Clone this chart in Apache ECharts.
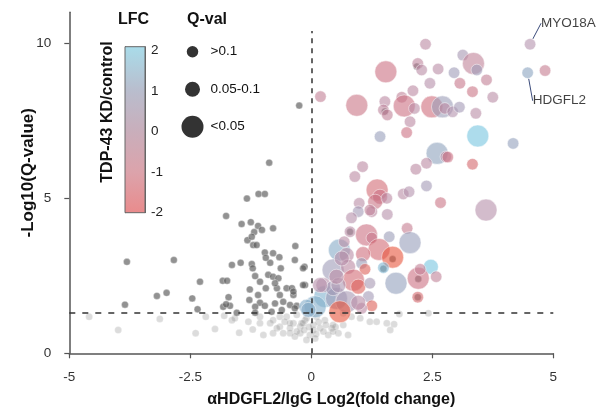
<!DOCTYPE html>
<html>
<head>
<meta charset="utf-8">
<script src="https://cdn.jsdelivr.net/npm/echarts@6/dist/echarts.min.js"></script>
<style>
  html, body { margin: 0; padding: 0; background: #fff; }
  #chart { width: 597px; height: 414px; }
</style>
</head>
<body>
<div id="chart"></div>
<script>
// axis ticks
const xTicks = [-5, -2.5, 0, 2.5, 5]
const yTicks = [0, 5, 10]
const lfcTicks = [-2, -1, 0, 1, 2]
const qClasses = ['>0.1', '0.05-0.1', '<0.05']
const qCut = 1.3

// proteins hit in both screens: [log2FC, -log10 q, LFC TDP-43 KD/control, q class index]
const hits = [
  [4.52, 9.97, 0, 0], [4.47, 9.05, 1, 0], [4.83, 9.12, -0.7, 0], [0.19, 8.28, -0.6, 0],
  [2.36, 9.97, -0.3, 0], [1.54, 9.08, -1, 2], [2.20, 9.35, -0.4, 0], [2.28, 9.14, -0.2, 0],
  [2.62, 9.17, -0.2, 0], [3.13, 9.62, 0.3, 0], [3.35, 9.35, -0.5, 2], [3.42, 9.14, 0.5, 0],
  [2.95, 9.05, 0.5, 0], [2.45, 8.71, -0.1, 0], [3.07, 8.71, -0.8, 0], [3.62, 8.82, -0.6, 0],
  [3.33, 8.44, -0.9, 0], [3.75, 8.26, -0.2, 0], [2.10, 8.47, -0.3, 0], [0.94, 8.00, -0.9, 2],
  [1.52, 8.12, -0.3, 0], [1.49, 7.85, -0.4, 0], [1.57, 7.69, -0.5, 0], [1.87, 8.26, -0.5, 0],
  [1.92, 7.98, -1, 2], [2.13, 7.90, -0.2, 0], [2.49, 7.95, -1.1, 2], [2.71, 7.95, 0.6, 2],
  [2.76, 7.90, -0.3, 0], [2.92, 7.79, 0, 0], [3.06, 7.94, 0.4, 0], [3.40, 7.74, -0.2, 0],
  [2.04, 7.47, -0.3, 0], [1.97, 7.12, -1, 0], [1.42, 6.99, 0.7, 0], [3.44, 7.01, 1.9, 2],
  [4.17, 6.77, 0.8, 0], [2.60, 6.45, 0.9, 2], [2.78, 6.34, -0.2, 0], [2.82, 6.33, -1, 0],
  [2.38, 6.13, -0.3, 0], [3.33, 6.10, -1.3, 0], [2.16, 5.94, -0.3, 0], [1.06, 6.02, -0.3, 0],
  [0.90, 5.70, -0.3, 0], [1.36, 5.27, -1.2, 2], [1.42, 5.05, -1, 1], [1.32, 4.89, -0.9, 1],
  [1.56, 5.00, -0.3, 0], [0.99, 4.84, -0.2, 0], [1.25, 4.57, -0.3, 0], [0.97, 4.57, 0.4, 0],
  [0.83, 4.37, -0.1, 0], [1.57, 4.48, -0.1, 0], [1.90, 5.14, -0.2, 0], [2.02, 5.21, 0, 0],
  [2.38, 5.40, 0.4, 0], [2.67, 4.86, -0.9, 0], [3.61, 4.62, -0.1, 2], [0.80, 3.92, -0.2, 0],
  [1.14, 3.82, -1, 2], [1.25, 3.72, -0.8, 0], [1.98, 4.03, -0.7, 0], [1.61, 3.76, 0.6, 0],
  [2.04, 3.57, 0.7, 2], [0.58, 3.33, 1.2, 2], [1.40, 3.35, -1.2, 2], [1.68, 3.10, -2, 2],
  [1.07, 3.20, -1.1, 1], [1.04, 2.90, 0.6, 0], [1.11, 2.71, -1.6, 0], [1.49, 2.76, 1.5, 0],
  [2.47, 2.79, 1.9, 1], [0.73, 3.17, -0.2, 1], [0.45, 2.69, 0.5, 2], [0.76, 2.79, -0.3, 1],
  [0.87, 2.36, -1.2, 2], [0.97, 2.15, -1.6, 1], [1.21, 2.26, 0.3, 0], [1.75, 2.26, 0.8, 2],
  [2.21, 2.42, -1, 2], [2.25, 2.71, -0.6, 0], [2.58, 2.47, -0.5, 0], [2.20, 1.81, -1.3, 0],
  [0.28, 1.83, 1.4, 2], [0.52, 1.77, 0.5, 2], [0.73, 1.66, 0.3, 2], [0.08, 1.50, 1.3, 2],
  [0.59, 1.34, -2, 2], [1.18, 1.83, 0.4, 0], [1.25, 1.53, -1.6, 0], [1.04, 1.45, -0.3, 0],
  [-0.10, 1.50, 1.3, 1], [0.25, 2.20, -0.1, 1], [0.45, 2.10, 0.4, 1], [1.21, 4.62, -0.5, 0],
  [0.68, 3.60, -0.2, 0], [0.63, 3.06, -0.1, 1], [0.56, 2.20, 0.2, 1], [0.97, 1.63, -0.2, 1],
  [0.52, 2.47, -0.2, 1], [0.18, 2.20, -0.1, 1], [-0.06, 1.40, 1.2, 1]
]

// labelled genes, index into hits
const geneLabels = [['MYO18A', 0], ['HDGFL2', 1]]

// other proteins above the q cut-off
const graySig = [
  [-3.81, 2.95], [-2.84, 3.01], [-3.85, 1.57], [-3.19, 1.85], [-2.99, 1.95], [-2.30, 2.31],
  [-2.46, 1.77], [-2.35, 1.42], [-1.76, 4.43], [-1.33, 4.99], [-1.09, 5.14], [-0.96, 5.14],
  [-1.44, 4.17], [-1.25, 4.23], [-1.10, 4.11], [-1.18, 3.91], [-1.02, 3.98], [-0.79, 4.03],
  [-1.20, 3.49], [-1.13, 3.49], [-0.33, 3.46], [-0.96, 3.25], [-0.79, 3.23], [-0.66, 3.10],
  [-0.85, 2.92], [-0.63, 2.74], [-0.34, 3.01], [-1.64, 2.85], [-1.46, 2.92], [-1.23, 2.88],
  [-1.21, 2.74], [-1.83, 2.34], [-1.74, 2.34], [-1.16, 2.49], [-1.06, 2.31], [-0.89, 2.53],
  [-0.79, 2.47], [-0.68, 2.42], [-1.27, 2.06], [-0.94, 2.10], [-0.71, 2.10], [-0.51, 2.10],
  [-0.40, 2.10], [-0.13, 2.20], [-0.65, 1.88], [-0.37, 1.88], [-1.28, 1.72], [-1.71, 1.81],
  [-1.06, 1.63], [-1.16, 1.50], [-0.96, 1.53], [-0.75, 1.61], [-0.58, 1.66], [-0.44, 1.56],
  [-0.30, 1.53], [-1.82, 1.50], [-1.68, 1.53], [-1.76, 1.58], [-1.54, 1.31], [-0.82, 1.34],
  [-0.61, 1.40], [-1.16, 1.31], [-0.34, 1.45], [-0.14, 2.79], [-0.17, 2.74], [-0.17, 2.20],
  [-0.25, 7.99], [-0.87, 6.15], [-1.32, 3.65], [-1.23, 3.76], [-0.94, 3.08], [-0.75, 2.26],
  [-0.37, 1.99], [-1.10, 1.88], [0.80, 3.92], [1.68, 3.04], [1.49, 2.73], [2.21, 2.40],
  [2.20, 1.81], [1.52, 7.80], [2.18, 9.25]
]

// below the q cut-off
const grayNs = [
  [-4.59, 1.18], [-3.99, 0.75], [-3.13, 1.11], [-2.39, 0.65], [-2.18, 1.18], [-1.99, 0.78],
  [-1.80, 1.21], [-1.49, 0.66], [-1.64, 1.07], [-1.58, 1.13], [-1.21, 0.77], [-0.99, 0.59],
  [-0.79, 0.65], [-1.30, 1.02], [-1.06, 0.97], [-0.85, 0.97], [-0.65, 0.86], [-0.44, 0.65],
  [-0.37, 0.97], [-0.23, 0.86], [-0.13, 1.07], [-0.23, 0.65], [-1.06, 1.18], [-0.65, 1.18],
  [1.21, 1.02], [1.35, 1.02], [1.56, 0.97], [1.63, 0.75], [0.76, 0.59], [0.83, 1.18],
  [1.01, 1.13], [0.66, 1.29], [0.42, 0.81], [1.82, 1.27], [2.42, 1.29], [1.71, 0.94],
  [-0.79, 1.07], [-0.51, 1.18], [-0.30, 1.24], [-0.10, 1.13], [0.11, 1.18], [0.28, 1.07],
  [-0.58, 0.65], [-0.34, 0.54], [-0.03, 0.59], [0.18, 0.81], [0.35, 0.59], [0.56, 0.65],
  [-0.71, 0.81], [0.04, 0.75], [-0.20, 0.97], [-0.44, 0.81], [0.04, 0.91], [0.25, 0.70],
  [0.45, 0.70], [-0.15, 0.75], [0.10, 0.62], [-0.30, 0.70], [0.30, 0.91], [0.50, 0.85],
  [-0.10, 0.43], [0.08, 0.48], [-0.55, 1.02], [0.15, 1.00], [-0.05, 0.85], [-0.44, 0.97],
  [0.45, 0.91], [0.66, 0.91], [-0.17, 0.97]
]

const qSize = [11.5, 15, 22]
const font = 'Liberation Sans, Arial, sans-serif'

let chart = echarts.init(document.getElementById('chart'))

let barGradient = new echarts.graphic.LinearGradient(0, 0, 0, 1, [
  { offset: 0, color: '#a9dcea' },
  { offset: 0.268, color: '#b9bdcd' },
  { offset: 0.512, color: '#c9aebb' },
  { offset: 0.756, color: '#dca3ab' },
  { offset: 1, color: '#e98b8c' }
])

let option = {
  animation: false,
  textStyle: { fontFamily: font },
  title: [{
    text: 'LFC', left: 118, top: 12, padding: 0,
    textStyle: { fontSize: 16, fontWeight: 'bold', color: '#111', fontFamily: font }
  }, {
    text: 'Q-val', left: 187, top: 12, padding: 0,
    textStyle: { fontSize: 16, fontWeight: 'bold', color: '#111', fontFamily: font }
  }],
  graphic: [{
    type: 'text',
    x: 108, y: 112,
    rotation: Math.PI / 2,
    style: {
      text: 'TDP-43 KD/control',
      font: 'bold 16px ' + font,
      fill: '#111',
      textAlign: 'center',
      textVerticalAlign: 'middle'
    }
  }],
  grid: [
    { left: 69.3, right: 43.7, top: 12.3, bottom: 60.7 },
    { left: 125, top: 46.7, width: 20, height: 166 },
    { left: 182.5, top: 33, width: 20, height: 112.5 }
  ],
  xAxis: [{
    type: 'value', min: -5, max: 5, interval: 2.5,
    name: 'αHDGFL2/IgG Log2(fold change)',
    nameLocation: 'middle', nameGap: 38, nameMoveOverlap: false,
    nameTextStyle: { fontSize: 16, fontWeight: 'bold', color: '#111', padding: [0, 0, 0, 40] },
    axisLine: { onZero: false, lineStyle: { color: '#555', width: 1.5 } },
    axisTick: { length: 5, lineStyle: { color: '#555', width: 1.2 } },
    axisLabel: { fontSize: 13.5, color: '#333', margin: 17 },
    splitLine: { show: false }
  }, {
    type: 'value', gridIndex: 1, min: 0, max: 1, show: false
  }, {
    type: 'value', gridIndex: 2, min: 0, max: 1, show: false
  }],
  yAxis: [{
    type: 'value', min: 0, max: 11,
    name: '-Log10(Q-value)',
    nameLocation: 'middle', nameGap: 32, nameMoveOverlap: false,
    nameTextStyle: { fontSize: 17, fontWeight: 'bold', color: '#111', padding: [0, 0, 0, 20] },
    axisLine: { show: true, onZero: false, lineStyle: { color: '#555', width: 1.5 } },
    axisTick: { show: true, length: 5, customValues: yTicks, lineStyle: { color: '#555', width: 1.2 } },
    axisLabel: { fontSize: 13.5, color: '#333', margin: 18, customValues: yTicks },
    splitLine: { show: false }
  }, {
    type: 'value', gridIndex: 1, min: -2, max: 2.1, position: 'right',
    axisLine: { show: true, onZero: false, lineStyle: { color: '#666', width: 1 } },
    axisTick: { show: true, inside: true, length: 3, customValues: [-1, 0, 1], lineStyle: { color: '#555' } },
    axisLabel: { fontSize: 13.5, color: '#222', margin: 6, customValues: lfcTicks },
    splitLine: { show: false }
  }, {
    type: 'value', gridIndex: 1, min: -2, max: 2.1, position: 'left',
    axisLine: { show: true, onZero: false, lineStyle: { color: '#666', width: 1 } },
    axisTick: { show: true, inside: true, length: 3, customValues: [-1, 0, 1], lineStyle: { color: '#555' } },
    axisLabel: { show: false },
    splitLine: { show: false }
  }, {
    type: 'category', gridIndex: 2, data: qClasses, inverse: true, position: 'right',
    axisLine: { show: false }, axisTick: { show: false },
    axisLabel: { fontSize: 13.5, color: '#111', margin: 8 }
  }],
  visualMap: {
    type: 'continuous', show: false, seriesIndex: 2, dimension: 2,
    min: -2, max: 2,
    inRange: { color: ['#e8553c', '#cc7082', '#b493ae', '#8aa3bf', '#74c8e4'] }
  },
  series: [{
    type: 'scatter',
    data: grayNs,
    symbolSize: 7,
    itemStyle: { color: 'rgba(130,130,130,0.35)', borderColor: 'rgba(255,255,255,0.5)', borderWidth: 0.5 },
    markLine: {
      silent: true, symbol: 'none', label: { show: false },
      data: [
        [{ coord: [0, 0], lineStyle: { type: [5, 5] } }, { coord: [0, 10.4] }],
        [{ coord: [-5, qCut], lineStyle: { type: [6, 7] } }, { coord: [5, qCut] }]
      ],
      lineStyle: { color: '#333', width: 1.5 }
    }
  }, {
    type: 'scatter',
    data: graySig,
    symbolSize: 7,
    itemStyle: { color: 'rgba(95,95,95,0.85)', borderColor: 'rgba(255,255,255,0.7)', borderWidth: 0.6 }
  }, {
    type: 'scatter',
    data: hits,
    symbolSize: d => qSize[d[3]],
    itemStyle: { opacity: 0.6, borderColor: '#fff', borderWidth: 0.8 }
  }, {
    type: 'scatter',
    silent: true,
    data: geneLabels.map(g => ({ name: g[0], value: hits[g[1]].slice(0, 2) })),
    symbolSize: 12,
    itemStyle: { color: 'rgba(0,0,0,0)' },
    label: { show: true, formatter: '{b}', position: 'right', distance: 5, fontSize: 13.5, color: '#111' },
    labelLine: { show: true, lineStyle: { color: '#3a4a7a', width: 1 } },
    labelLayout: p => p.dataIndex === 0 ? { dx: 0, dy: -21 } : { dx: -6, dy: 28 }
  }, {
    type: 'line',
    xAxisIndex: 1, yAxisIndex: 1,
    data: [[0.5, 0]],
    symbol: 'none', lineStyle: { opacity: 0 },
    silent: true,
    markArea: {
      silent: true,
      itemStyle: { color: barGradient, borderColor: '#666', borderWidth: 1 },
      data: [[{ coord: [0, -2] }, { coord: [1, 2.1] }]]
    }
  }, {
    type: 'scatter',
    xAxisIndex: 2, yAxisIndex: 3,
    silent: true,
    data: qClasses.map(q => [0.5, q]),
    symbolSize: (d, p) => qSize[p.dataIndex],
    itemStyle: { color: '#000' }
  }]
}

chart.setOption(option)
</script>
</body>
</html>
